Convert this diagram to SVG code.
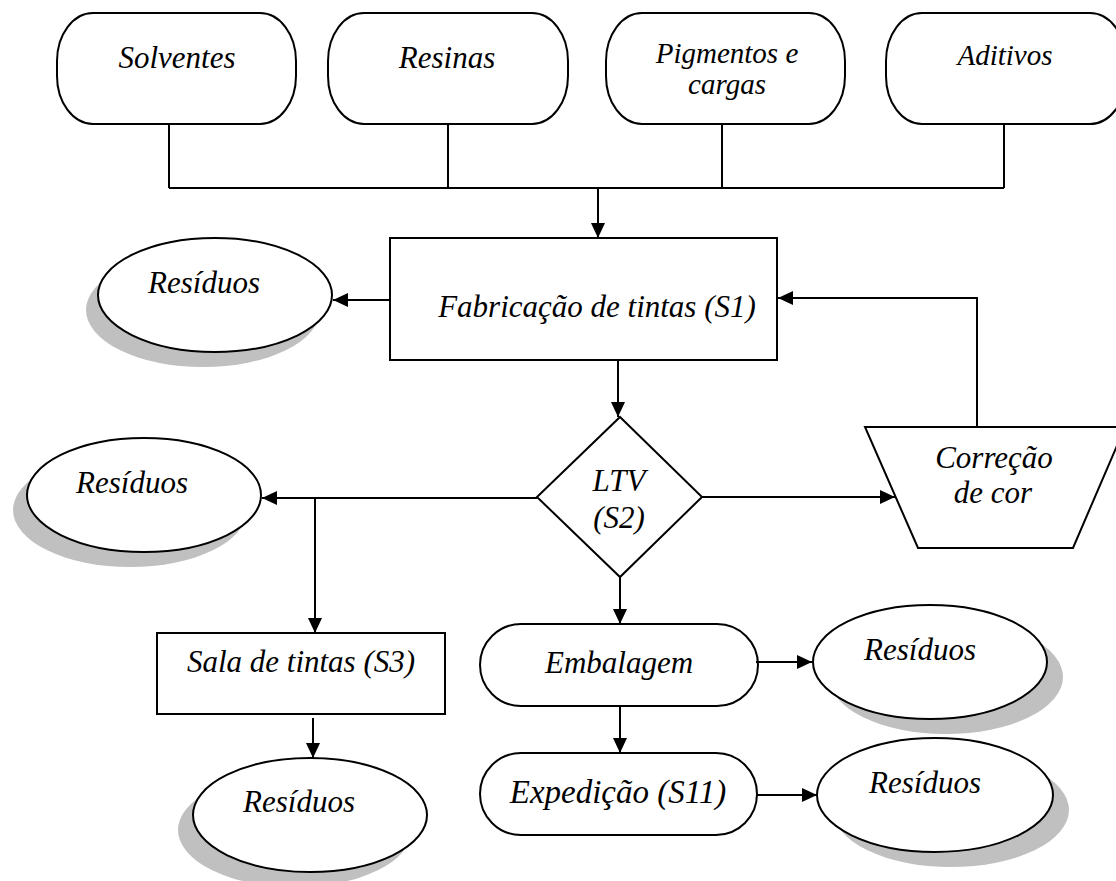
<svg xmlns="http://www.w3.org/2000/svg" width="1116" height="881" viewBox="0 0 1116 881">
  <style>
    .shape { fill: #ffffff; stroke: #000000; stroke-width: 2; }
    .shadow { fill: #c0c0c0; stroke: none; }
    .wire { fill: none; stroke: #000000; stroke-width: 2; }
    .arrow { fill: none; stroke: #000000; stroke-width: 2; marker-end: url(#head); }
    text { font-family: "Liberation Serif", "Times New Roman", serif; font-style: italic; font-size: 31px; fill: #000000; text-anchor: middle; }
    .small { font-size: 29px; }
  </style>
  <defs>
    <marker id="head" markerUnits="userSpaceOnUse" markerWidth="15" markerHeight="14" viewBox="0 0 10 10" refX="10" refY="5" orient="auto" preserveAspectRatio="none">
      <path d="M0,0 L10,5 L0,10 z" fill="#000000"/>
    </marker>
  </defs>

  <!-- raw material inputs -->
  <g id="solventes">
    <rect class="shape" x="57" y="13" width="239" height="111" rx="36" ry="48"/>
    <text x="177" y="68">Solventes</text>
  </g>
  <g id="resinas">
    <rect class="shape" x="328" y="13" width="240" height="111" rx="36" ry="48"/>
    <text x="447" y="68">Resinas</text>
  </g>
  <g id="pigmentos">
    <rect class="shape" x="606" y="13" width="239" height="111" rx="36" ry="48"/>
    <text class="small" x="727" y="63">Pigmentos e</text>
    <text class="small" x="727" y="94">cargas</text>
  </g>
  <g id="aditivos">
    <rect class="shape" x="886" y="13" width="240" height="111" rx="36" ry="48"/>
    <text class="small" x="1005" y="65">Aditivos</text>
  </g>

  <!-- production -->
  <g id="fabricacao">
    <rect class="shape" x="390" y="238" width="387" height="122"/>
    <text x="597" y="317">Fabricação de tintas (S1)</text>
  </g>
  <g id="residuos-s1">
    <ellipse class="shadow" cx="203" cy="310" rx="117" ry="57"/>
    <ellipse class="shape" cx="215" cy="295" rx="117" ry="57"/>
    <text x="204" y="293">Resíduos</text>
  </g>

  <g id="ltv">
    <polygon class="shape" points="620,417 702,497 620,577 537,497"/>
    <text x="619" y="491">LTV</text>
    <text x="619" y="528">(S2)</text>
  </g>
  <g id="correcao">
    <polygon class="shape" points="865,427 1125,427 1073,548 918,548"/>
    <text x="994" y="468">Correção</text>
    <text x="993" y="503">de cor</text>
  </g>
  <g id="residuos-s2">
    <ellipse class="shadow" cx="130" cy="510" rx="117" ry="57"/>
    <ellipse class="shape" cx="144" cy="495" rx="117" ry="57"/>
    <text x="132" y="493">Resíduos</text>
  </g>

  <g id="sala">
    <rect class="shape" x="157" y="633" width="288" height="81"/>
    <text x="301" y="672">Sala de tintas (S3)</text>
  </g>
  <g id="residuos-s3">
    <ellipse class="shadow" cx="295" cy="830" rx="117" ry="57"/>
    <ellipse class="shape" cx="310" cy="815" rx="117" ry="57"/>
    <text x="299" y="812">Resíduos</text>
  </g>

  <g id="embalagem">
    <rect class="shape" x="480" y="624" width="278" height="82" rx="41" ry="41"/>
    <text x="619" y="673">Embalagem</text>
  </g>
  <g id="residuos-emb">
    <ellipse class="shadow" cx="946" cy="677" rx="117" ry="57"/>
    <ellipse class="shape" cx="930" cy="662" rx="117" ry="57"/>
    <text x="920" y="660">Resíduos</text>
  </g>

  <g id="expedicao">
    <rect class="shape" x="480" y="753" width="277" height="82" rx="41" ry="41"/>
    <text x="618" y="803" style="font-size:33px">Expedição (S11)</text>
  </g>
  <g id="residuos-exp">
    <ellipse class="shadow" cx="951" cy="810" rx="118" ry="57"/>
    <ellipse class="shape" cx="935" cy="795" rx="118" ry="57"/>
    <text x="925" y="793">Resíduos</text>
  </g>

  <!-- connectors -->
  <g id="connectors">
    <path class="wire" d="M169,124 V188 M448,124 V188 M722,124 V188 M1004,124 V188 M169,188 H1004"/>
    <path class="arrow" d="M598,188 V238"/>
    <path class="arrow" d="M390,300 H333"/>
    <path class="arrow" d="M618,360 V417"/>
    <path class="arrow" d="M977,427 V298 H778"/>
    <path class="arrow" d="M537,498 H262"/>
    <path class="arrow" d="M315,498 V633"/>
    <path class="arrow" d="M702,497 H895"/>
    <path class="arrow" d="M620,577 V624"/>
    <path class="arrow" d="M313,718 V758"/>
    <path class="arrow" d="M756,662 H812"/>
    <path class="arrow" d="M620,706 V753"/>
    <path class="arrow" d="M757,795 H817"/>
  </g>
</svg>
